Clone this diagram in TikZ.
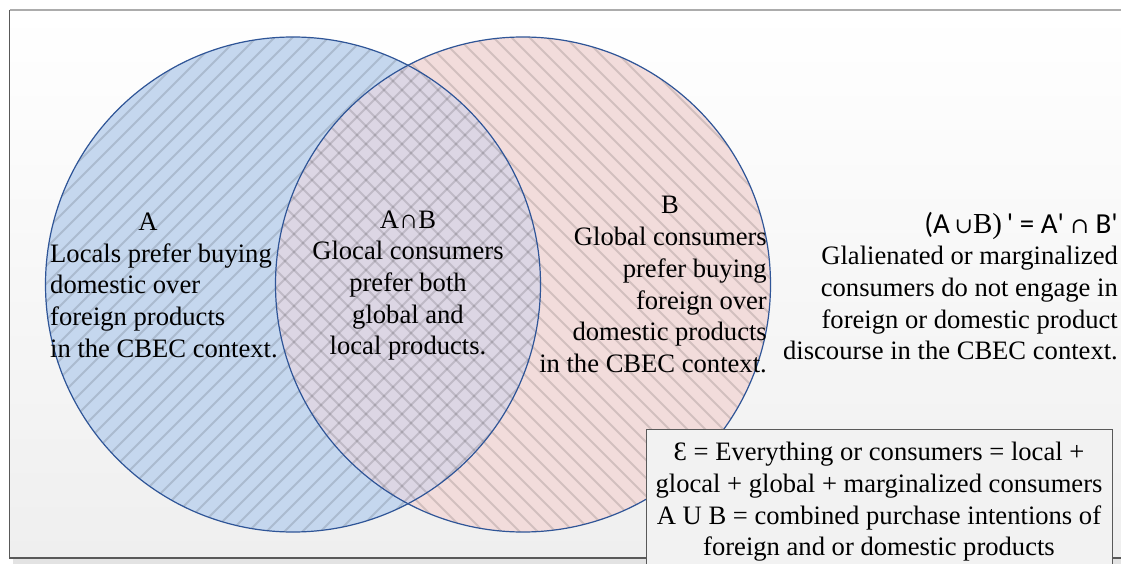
\documentclass[tikz,border=0pt]{standalone}
\usepackage{fontspec}
\setmainfont{Liberation Serif}
\newfontfamily\calibrifont{Carlito}
\newfontfamily\symbolfont{DejaVu Serif}
\usepackage{tikz}
\definecolor{setblue}{HTML}{2F5597}
\definecolor{setAfill}{HTML}{C5D7EE}
\definecolor{setBfill}{HTML}{F2DCDB}
\definecolor{bothfill}{HTML}{DCD6E4}
\definecolor{bggray}{HTML}{EFEFEF}
\definecolor{framedark}{HTML}{595959}
\definecolor{notefill}{HTML}{F2F2F2}

\begin{document}
\begin{tikzpicture}[x=1pt, y=-1pt,
	label text/.style={font=\fontsize{26.6}{31.7}\selectfont, inner sep=0pt},
	hatch/.style={line width=1.8pt, black, opacity=.13},
	set edge/.style={draw=setblue, line width=1.2pt}]
	\useasboundingbox (0,0) rectangle (1121,564);
	% frame with soft grey background
	\shade[top color=white, bottom color=bggray] (9.5,10) rectangle (1130,558);
	\fill[gray!22] (13,559) rectangle (1130,564);
	\draw[framedark, line width=1.5pt] (9.5,10) -- (9.5,558) -- (1130,558);
	\draw[gray!65, line width=2pt] (9.5,10) -- (1130,10);
	% the two sets
	\coordinate (set A) at (293,284.5);
	\coordinate (set B) at (523,284.5);
	\fill[setAfill] (set A) circle[radius=247.5pt];
	\fill[setBfill] (set B) circle[radius=247.5pt];
	\begin{scope}
		\clip (set A) circle[radius=247.5pt];
		\fill[bothfill] (set B) circle[radius=247.5pt];
		\foreach \x in {-300,-282,...,900}
			\draw[hatch] (\x,540) -- (\x+520,20);
	\end{scope}
	\begin{scope}
		\clip (set B) circle[radius=247.5pt];
		\foreach \x in {-100,-82,...,1100}
			\draw[hatch] (\x,20) -- (\x+520,540);
	\end{scope}
	\draw[set edge] (set A) circle[radius=247.5pt];
	\draw[set edge] (set B) circle[radius=247.5pt];
	% labels
	\node[label text] (name A) at (148,222) {A};
	\node[label text, anchor=west, align=left] (text A) at (50,300.5)
		{Locals prefer buying\\domestic over\\foreign products\\in the CBEC context.};
	\node[label text, align=center] (text AB) at (408,285.5)
		{A∩B\\Glocal consumers\\prefer both\\global and\\local products.};
	\node[label text] (name B) at (670,205) {B};
	\node[label text, anchor=east, align=right] (text B) at (767,300)
		{Global consumers\\prefer buying\\foreign over\\domestic products\\in the CBEC context.};
	\node[label text, anchor=east, align=right] (text rest) at (1118,286)
		{{\calibrifont\fontsize{29}{31.7}\selectfont (A\,{\symbolfont\fontsize{22}{26}\selectfont∪}{\rmfamily B)}\,' = A' {\symbolfont\fontsize{22}{26}\selectfont∩} B'}\\Glalienated or marginalized\\consumers do not engage in\\foreign or domestic product\\discourse in the CBEC context.};
	\node[label text, draw=framedark, fill=notefill, line width=.8pt,
		minimum width=466pt, minimum height=146pt, align=center] (note) at (879,502)
		{Ɛ = Everything or consumers = local +\\glocal + global + marginalized consumers\\A U B = combined purchase intentions of\\foreign and or domestic products};
\end{tikzpicture}
\end{document}
